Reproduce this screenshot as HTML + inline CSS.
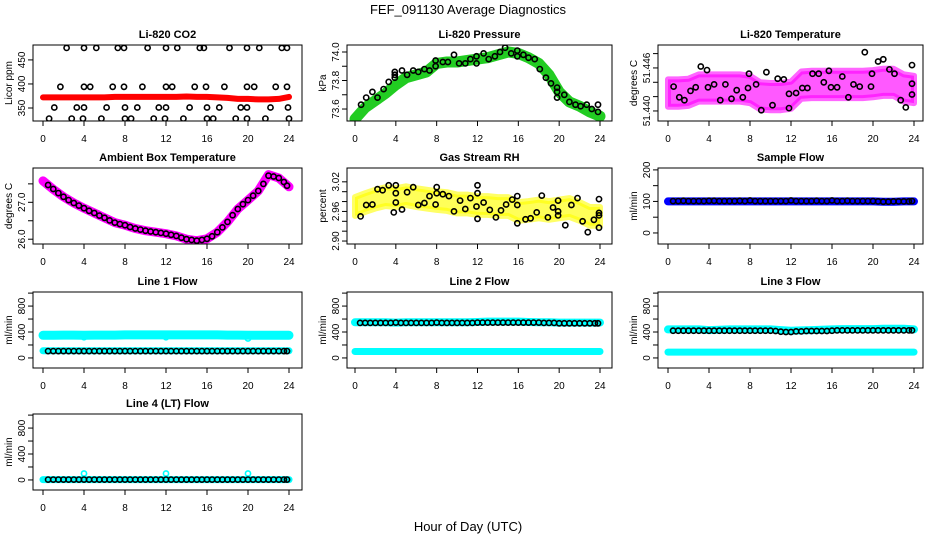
<!DOCTYPE html>
<html><head><meta charset="utf-8"><style>
html,body{margin:0;padding:0;background:#fff;}
svg{display:block;font-family:"Liberation Sans",sans-serif;}
</style></head><body>
<svg id="chart" width="936" height="540" viewBox="0 0 936 540">
<text x="468" y="14" text-anchor="middle" font-size="13">FEF_091130  Average Diagnostics</text>
<text x="468" y="531" text-anchor="middle" font-size="13">Hour of Day (UTC)</text>
</svg>
<script>
// ---- data ----
const hours = [0,1,2,3,4,5,6,7,8,9,10,11,12,13,14,15,16,17,18,19,20,21,22,23,24];
const halfT = [0.5,1,1.5,2,2.5,3,3.5,4,4.5,5,5.5,6,6.5,7,7.5,8,8.5,9,9.5,10,10.5,11,11.5,12,12.5,13,13.5,14,14.5,15,15.5,16,16.5,17,17.5,18,18.5,19,19.5,20,20.5,21,21.5,22,22.5,23,23.5,23.8];

const co2Band = [372,372,372,372,372,372,372,373,373,373,373,373,373,373,374,373,373,372,371,369,369,368,368,369,373];
const co2T = [2.3,4.0,5.2,7.3,7.9,10.2,12.0,13.1,15.3,15.7,18.2,19.9,21.1,23.3,23.8,
 1.7,4.0,4.6,6.8,7.9,9.7,12.0,12.6,14.8,15.9,17.7,19.9,20.6,22.7,23.8,
 1.1,3.3,4.0,6.2,8.0,9.2,11.3,12.0,14.3,16.0,17.2,19.3,19.9,22.2,23.9,
 0.6,2.8,3.9,5.7,8.0,8.6,10.8,11.9,13.7,16.0,16.6,18.8,19.9,21.7,24.0];
const co2V = [475,475,475,475,475,475,475,475,475,475,475,475,475,475,475,
 394,394,394,394,394,394,394,394,394,394,394,394,394,394,394,
 351,351,351,351,351,351,351,351,351,351,351,351,351,351,351,
 328,328,328,328,328,328,328,328,328,328,328,328,328,328,328];

const presBand = [73.53,73.61,73.66,73.71,73.77,73.82,73.84,73.86,73.92,73.93,73.93,73.94,73.95,73.96,73.98,74.0,73.99,73.96,73.92,73.84,73.72,73.65,73.62,73.58,73.55];
const presT = [0.6,1.1,1.7,2.2,2.8,3.3,3.9,3.9,3.9,4.6,5.1,5.7,6.2,6.8,7.3,7.9,7.9,8.6,9.1,9.7,10.2,10.8,11.3,11.9,11.9,12.6,13.1,13.7,14.2,14.7,15.3,15.9,15.9,16.5,17.0,17.6,18.1,18.7,19.2,19.8,19.8,19.8,20.5,21.0,21.6,22.1,22.7,23.2,23.8,23.8];
const presV = [73.63,73.68,73.72,73.68,73.74,73.79,73.84,73.86,73.82,73.87,73.84,73.87,73.86,73.88,73.87,73.94,73.90,73.93,73.93,73.98,73.92,73.92,73.95,73.97,73.92,73.99,73.95,73.97,74.0,74.03,73.99,74.01,73.97,73.98,73.96,73.95,73.88,73.82,73.78,73.75,73.72,73.68,73.70,73.65,73.63,73.62,73.63,73.60,73.63,73.58];

const tempBand = [51.4425,51.4425,51.4426,51.4432,51.4432,51.4432,51.4432,51.4432,51.4430,51.4421,51.4420,51.4420,51.4422,51.4436,51.4437,51.4437,51.4437,51.4437,51.4437,51.4437,51.4438,51.4440,51.4440,51.4432,51.4430];
const tempT = [0.55,1.1,1.6,2.2,2.7,3.2,3.8,3.9,4.5,5.1,5.6,6.2,6.7,7.3,7.8,7.9,8.6,9.1,9.6,10.2,10.7,11.3,11.8,11.8,12.5,13.1,13.6,14.1,14.7,15.2,15.7,15.9,16.5,17.0,17.6,18.1,18.7,19.2,19.8,19.9,20.5,21.0,21.6,22.1,22.7,23.2,23.8,23.8,23.8];
const tempV = [51.4434,51.4419,51.4415,51.4428,51.4433,51.4462,51.4457,51.4433,51.4437,51.4415,51.4437,51.4417,51.4429,51.4419,51.4432,51.4452,51.4437,51.4401,51.4454,51.4408,51.4445,51.4444,51.4424,51.4404,51.4425,51.4432,51.4432,51.4452,51.4452,51.4440,51.4456,51.4433,51.4433,51.4448,51.4419,51.4437,51.4434,51.4482,51.4434,51.4452,51.4469,51.4472,51.4458,51.4452,51.4415,51.4405,51.4464,51.4438,51.4423];

const ambBand = [27.58,27.35,27.15,26.98,26.84,26.71,26.58,26.45,26.38,26.29,26.23,26.19,26.15,26.09,26.0,25.96,26.01,26.19,26.47,26.82,27.06,27.31,27.75,27.66,27.42];
const ambV = [27.47,27.36,27.25,27.15,27.06,26.98,26.91,26.84,26.77,26.71,26.64,26.58,26.51,26.45,26.41,26.38,26.33,26.29,26.26,26.23,26.21,26.19,26.17,26.15,26.12,26.09,26.04,26.0,25.98,25.96,25.98,26.01,26.08,26.19,26.32,26.47,26.65,26.82,26.95,27.06,27.18,27.31,27.5,27.72,27.7,27.66,27.55,27.45];

const rhBand = [2.970,2.978,2.985,2.990,2.988,2.992,2.988,2.985,2.982,2.980,2.975,2.975,2.972,2.972,2.970,2.970,2.960,2.962,2.965,2.962,2.965,2.968,2.960,2.950,2.950];
const rhT = [0.55,1.1,1.7,2.2,2.7,3.3,3.8,4.0,4.0,4.0,4.6,5.1,5.7,6.2,6.8,7.3,7.9,8.0,8.0,8.6,9.2,9.7,10.3,10.8,11.3,11.9,12.0,12.0,12.0,12.6,13.2,13.8,14.3,14.8,15.4,15.9,15.9,15.9,16.7,17.2,17.8,18.3,18.9,19.4,19.9,19.9,19.9,20.6,21.2,21.8,22.3,22.8,23.4,23.9,23.9,23.9,23.9];
const rhV = [2.950,2.973,2.974,3.005,3.003,3.013,2.958,2.978,2.997,3.013,2.964,2.999,3.009,2.973,2.977,2.991,2.974,3.009,2.997,2.995,2.991,2.960,2.982,2.965,2.987,2.970,3.013,2.997,2.945,2.978,2.963,2.948,2.962,2.974,2.984,2.991,2.973,2.936,2.944,2.946,2.958,2.992,2.948,2.968,2.960,2.982,2.952,2.932,2.973,2.987,2.940,2.918,2.943,2.985,2.957,2.952,2.927];

const sampBand = [100,100,100,100,100,100,100,100,100,100,100,100,100,100,100,100,100,100,100,100,100,99,99,100,100];
const sampV = [101,101,102,101,101,101,101,102,102,101,101,101,101,102,101,103,101,101,101,101,101,101,101,103,101,101,101,101,102,101,101,103,101,101,102,101,101,101,101,101,100,99,99,100,100,100,100,101];

const l1BandHi = [350,350,352,352,350,352,352,352,355,355,355,355,355,355,355,355,355,355,352,352,350,350,350,350,350];
const l1BandLo = [110,110,110,110,110,110,110,110,110,110,110,110,110,110,110,110,110,110,110,110,110,110,110,110,110];
const l1V = [105,105,105,105,105,105,105,105,105,105,105,105,105,105,105,105,105,105,105,105,105,105,105,105,105,105,105,105,105,105,105,105,105,105,105,105,105,105,105,105,105,105,105,105,105,105,105,105];
const l1OutT = [4,12,20];
const l1OutV = [320,320,300];

const l2BandHi = [550,550,550,550,545,550,550,550,550,550,550,550,555,560,560,560,560,555,550,550,545,545,545,545,545];
const l2BandLo = [100,100,100,100,100,100,100,100,100,100,100,100,100,100,100,100,100,100,100,100,100,100,100,100,100];
const l2V = [540,540,540,540,540,540,540,545,540,540,540,540,540,540,540,545,540,540,540,540,540,540,540,545,545,545,545,545,545,545,545,545,545,545,545,545,540,540,540,535,535,535,535,535,535,535,535,535];

const l3BandHi = [440,440,440,440,430,435,440,440,440,440,440,430,420,425,430,435,440,445,445,445,445,450,450,450,440];
const l3BandLo = [90,90,90,90,90,90,90,90,90,90,90,90,90,90,90,90,90,90,90,90,90,90,90,90,90];
const l3V = [420,420,420,420,420,420,420,420,420,420,420,420,420,420,420,420,420,420,420,420,415,405,400,400,410,410,415,415,415,415,415,420,425,425,425,425,425,425,425,425,425,425,425,425,425,425,425,425];

const l4Band = [5,5,5,5,5,5,5,5,5,5,5,5,5,5,5,5,5,5,5,5,5,5,5,5,5];
const l4V = [5,5,5,5,5,5,5,5,5,5,5,5,5,5,5,5,5,5,5,5,5,5,5,5,5,5,5,5,5,5,5,5,5,5,5,5,5,5,5,5,5,5,5,5,5,5,5,5];
const l4OutT = [4,12,20];
const l4OutV = [100,100,100];

const xTicks = [0,4,8,12,16,20,24];
const flowTicks = [0,200,400,600,800,1000];
const flowLabels = ["0","","400","","800",""];

// ---- layout ----
const NS = "http://www.w3.org/2000/svg";
const svg = document.getElementById("chart");
const cols = [{l:33,r:302,x0:43,x24:289},{l:347,r:612,x0:355,x24:600},{l:658,r:923,x0:668,x24:914}];
const rows = [45,168,292,414];
const H = 76;

function mk(tag, attrs, parent){
  const e = document.createElementNS(NS, tag);
  for (const k in attrs) e.setAttribute(k, attrs[k]);
  (parent||svg).appendChild(e);
  return e;
}

function makePanel(name, title, ylab, col, row, ymin, ymax, yt, yl, yfs){
  const c = cols[col], top = rows[row], bot = top + H;
  const g = mk("g", {});
  
  
  const sx = h => c.x0 + h * (c.x24 - c.x0) / 24;
  const sy = v => bot - (v - ymin) / (ymax - ymin) * H;
  const t = mk("text", {x:(c.l+c.r)/2, y:top-7, "text-anchor":"middle", "font-size":"11", "font-weight":"bold"}, g);
  t.textContent = title;
  
  
  const yt2 = mk("text", {transform:`translate(${c.l-21},${(top+bot)/2}) rotate(-90)`, "text-anchor":"middle", "font-size":"10"}, g);
  yt2.textContent = ylab;
  
  
  xTicks.forEach(h => {
    mk("line", {x1:sx(h), x2:sx(h), y1:bot, y2:bot+5, stroke:"#000"}, g);
    const tl = mk("text", {x:sx(h), y:bot+21, "text-anchor":"middle", "font-size":"10"}, g);
    tl.textContent = h;
    
    
  });
  yt.forEach((v,i) => {
    mk("line", {x1:c.l-5, x2:c.l, y1:sy(v), y2:sy(v), stroke:"#000"}, g);
    if (yl[i]) {
      const tl = mk("text", {transform:`translate(${c.l-8},${sy(v)}) rotate(-90)`, "text-anchor":"middle", "font-size":yfs||"10"}, g);
      tl.textContent = yl[i];
      
      
    }
  });
  const clipId = "clip" + name;
  const cp = mk("clipPath", {id:clipId}, g);
  mk("rect", {x:c.l, y:top, width:c.r-c.l, height:H}, cp);
  const plot = mk("g", {"clip-path":`url(#${clipId})`}, g);
  const box = mk("rect", {x:c.l, y:top, width:c.r-c.l, height:H, fill:"none", stroke:"#000"}, g);
  
  
  return {plot, sx, sy};
}

function band(p, xs, vs, color, w, name){
  const pts = xs.map((h,i) => p.sx(h).toFixed(1) + "," + p.sy(vs[i]).toFixed(1)).join(" ");
  const e = mk("polyline", {points:pts, fill:"none", stroke:color, "stroke-width":w, "stroke-linecap":"round", "stroke-linejoin":"round"}, p.plot);
  
  
}
function cloud(p, xs, vs, half, color, name){
  const up = xs.map((h,i) => p.sx(h).toFixed(1) + "," + p.sy(vs[i]+half).toFixed(1));
  const dn = xs.map((h,i) => p.sx(h).toFixed(1) + "," + p.sy(vs[i]-half).toFixed(1)).reverse();
  const e = mk("polygon", {points:up.concat(dn).join(" "), fill:color, "fill-opacity":"0.65", stroke:color, "stroke-width":"6", "stroke-opacity":"0.6", "stroke-linejoin":"round"}, p.plot);
  
  
}
function points(p, xs, vs, color, name){
  xs.forEach((h,i) => {
    const e = mk("circle", {cx:p.sx(h).toFixed(1), cy:p.sy(vs[i]).toFixed(1), r:"2.6", fill:"none", stroke:color, "stroke-width":"1.6"}, p.plot);
    
    
  });
}

// CO2
let p = makePanel("co2","Li-820 CO2","Licor ppm",0,0,323,481,[350,400,450],["350","400","450"]);
band(p, hours, co2Band, "#ff0000", 6, "co2-band");
points(p, co2T, co2V, "#000", "co2-point");

// Pressure
p = makePanel("pressure","Li-820 Pressure","kPa",1,0,73.516,74.049,[73.6,73.7,73.8,73.9,74.0],["73.6","","73.8","","74.0"]);
band(p, hours, presBand, "#22cc22", 11, "pressure-band");
points(p, presT, presV, "#000", "pressure-point");

// Temperature
p = makePanel("licor-temp","Li-820 Temperature","degrees C",2,0,51.4386,51.4492,[51.440,51.442,51.444,51.446,51.448],["51.440","","","51.446",""]);
cloud(p, hours, tempBand, 0.0019, "#ff00ff", "licor-temp-cloud");
points(p, tempT, tempV, "#000", "licor-temp-point");

// Ambient
p = makePanel("ambient","Ambient Box Temperature","degrees C",0,1,25.87,27.93,[26.0,26.5,27.0,27.5],["26.0","","27.0",""]);
band(p, hours, ambBand, "#ff00ff", 9, "ambient-band");
points(p, halfT, ambV, "#000", "ambient-point");

// RH
p = makePanel("rh","Gas Stream RH","percent",1,1,2.894,3.048,[2.90,2.92,2.94,2.96,2.98,3.00,3.02],["2.90","","","2.96","","","3.02"]);
cloud(p, hours, rhBand, 0.019, "#ffff00", "rh-cloud");
points(p, rhT, rhV, "#000", "rh-point");

// Sample flow
p = makePanel("sample-flow","Sample Flow","ml/min",2,1,-35,206,[0,50,100,150,200],["0","","100","","200"]);
band(p, hours, sampBand, "#0000ff", 8, "sample-flow-band");
points(p, halfT, sampV, "#000", "sample-flow-point");

// Line 1
p = makePanel("line1","Line 1 Flow","ml/min",0,2,-155,1017,flowTicks,flowLabels);
band(p, hours, l1BandHi, "#00ffff", 9, "line1-band-high");
band(p, hours, l1BandLo, "#00ffff", 7, "line1-band-low");
points(p, l1OutT, l1OutV, "#00ffff", "line1-outlier");
points(p, halfT, l1V, "#000", "line1-point");

// Line 2
p = makePanel("line2","Line 2 Flow","ml/min",1,2,-155,1017,flowTicks,flowLabels);
band(p, hours, l2BandHi, "#00ffff", 8, "line2-band-high");
band(p, hours, l2BandLo, "#00ffff", 7, "line2-band-low");
points(p, halfT, l2V, "#000", "line2-point");

// Line 3
p = makePanel("line3","Line 3 Flow","ml/min",2,2,-155,1017,flowTicks,flowLabels);
band(p, hours, l3BandHi, "#00ffff", 8, "line3-band-high");
band(p, hours, l3BandLo, "#00ffff", 7, "line3-band-low");
points(p, halfT, l3V, "#000", "line3-point");

// Line 4
p = makePanel("line4","Line 4 (LT) Flow","ml/min",0,3,-155,1017,flowTicks,flowLabels);
band(p, hours, l4Band, "#00ffff", 7, "line4-band");
points(p, l4OutT, l4OutV, "#00ffff", "line4-outlier");
points(p, halfT, l4V, "#000", "line4-point");
</script>
</body></html>
